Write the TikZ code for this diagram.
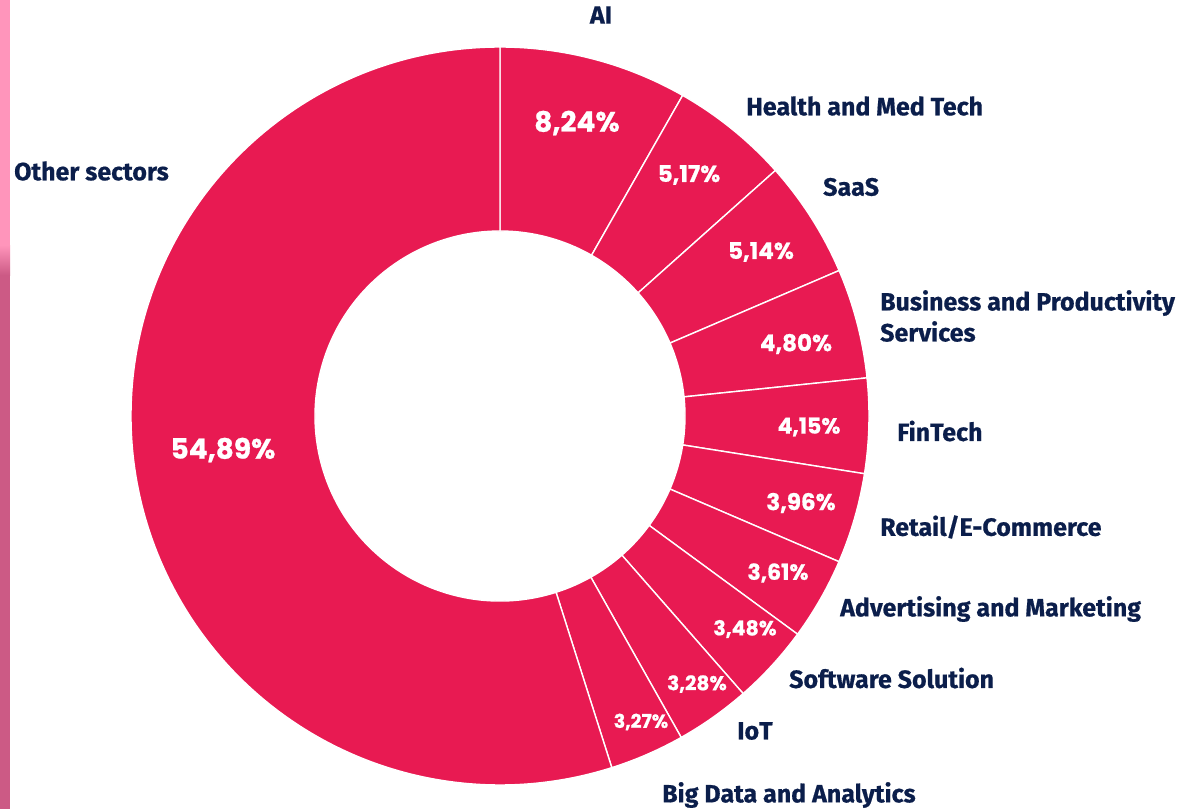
\documentclass[tikz,border=0pt]{standalone}
\usepackage{fontspec}
\setmainfont{Fira Sans}[BoldFeatures={FakeBold=0.6}]
\newfontfamily\pctfont{Poppins}[BoldFeatures={FakeBold=0.8}]
\usetikzlibrary{positioning}
\definecolor{piered}{HTML}{E81A52}
\definecolor{labelnavy}{HTML}{0B1E4B}
\definecolor{stripetop}{HTML}{FF95BB}
\definecolor{stripebot}{HTML}{CC5A85}

\begin{document}
\begin{tikzpicture}[x=1pt,y=1pt]
 \tikzset{sector/.style={fill=piered, draw=white, line width=1.4pt, line join=round},
 	sector label/.style={font=\fontsize{25}{31}\selectfont\bfseries, text=labelnavy,
 		inner sep=0pt, anchor=west, align=left},
 	pct/.style={font=\pctfont\fontsize{#1}{#1}\selectfont\bfseries, text=white, inner sep=0pt},
 	pct/.default=23
 }
 \useasboundingbox (0,0) rectangle (1188,-809);
 % side stripe
 \fill[stripetop] (0,0) rectangle (10,-245);
 \shade[top color=stripetop, bottom color=stripebot] (0,-245) rectangle (10,-275);
 \fill[stripebot] (0,-275) rectangle (10,-809);
 % donut, clockwise from the top
 \begin{scope}[shift={(500,-416)}]
 	\foreach \a/\b in {90/60.336, 60.336/41.724, 41.724/23.22, 23.22/5.94, 5.94/-9.0,
 		-9.0/-23.256, -23.256/-36.252, -36.252/-48.78, -48.78/-60.588,
 		-60.588/-72.36, -72.36/-270}
 	\filldraw[sector] (\a:185) arc[start angle=\a, end angle=\b, radius=185]
 		-- (\b:369) arc[start angle=\b, end angle=\a, radius=369] -- cycle;
 \end{scope}
 % values
 \node[pct=28] (vAI) at (577,-123) {8,24\%};
 \node[pct] (vHealth) at (689,-175) {5,17\%};
 \node[pct] (vSaaS) at (761,-252) {5,14\%};
 \node[pct] (vBusiness) at (796,-344) {4,80\%};
 \node[pct=22] (vFinTech) at (809,-427) {4,15\%};
 \node[pct] (vRetail) at (801,-503) {3,96\%};
 \node[pct=22] (vAdvert) at (778,-573) {3,61\%};
 \node[pct=20.5] (vSoftware) at (745,-629) {3,48\%};
 \node[pct=20] (vIoT) at (697,-684) {3,28\%};
 \node[pct=19] (vBigData) at (641,-722) {3,27\%};
 \node[pct=28] (vOther) at (223,-450) {54,89\%};
 % sector names
 \node[sector label, anchor=center] (AI) at (601,-15) {AI};
 \node[sector label] (Health) at (746,-106) {Health and Med Tech};
 \node[sector label] (SaaS) at (823,-187) {SaaS};
 \node[sector label] (Business) at (880,-316) {Business and Productivity\\Services};
 \node[sector label] (FinTech) at (897,-431) {FinTech};
 \node[sector label] (Retail) at (880,-527) {Retail/E-Commerce};
 \node[sector label] (Advert) at (840,-609) {Advertising and Marketing};
 \node[sector label] (Software) at (789,-678) {Software Solution};
 \node[sector label] (IoT) at (737,-731) {IoT};
 \node[sector label] (BigData) at (662,-795) {Big Data and Analytics};
 \node[sector label] (Other) at (14,-171) {Other sectors};
\end{tikzpicture}
\end{document}
